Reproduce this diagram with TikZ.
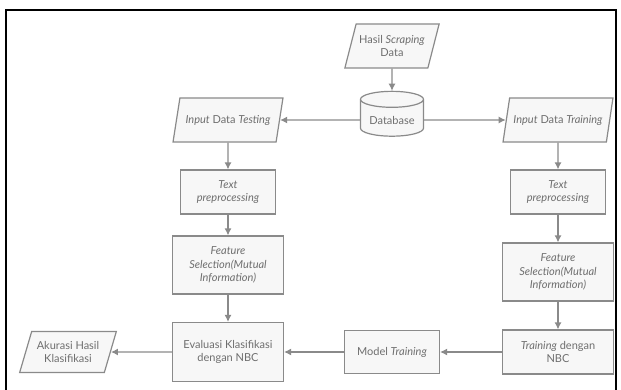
\documentclass[tikz,border=0pt]{standalone}
\usepackage{fontspec}
\setmainfont{Lato}
\usetikzlibrary{arrows,arrows.meta,shapes.geometric}
\definecolor{boxline}{HTML}{8A8A8A}
\definecolor{boxfill}{HTML}{F7F7F7}
\definecolor{boxtext}{HTML}{6E6E6E}
\tikzset{
    block/.style = {draw=boxline, fill=boxfill, rectangle, line width=1.2pt,
        text=boxtext, font=\fontsize{11}{13.5}\selectfont,
        minimum height=44pt, minimum width=95pt, align=center},
    wide/.style = {minimum width=111pt},
    io/.style = {draw=boxline, fill=boxfill, trapezium, line width=1.2pt,
        trapezium left angle=70, trapezium right angle=110,
        trapezium stretches=true, text=boxtext, font=\fontsize{11}{13.5}\selectfont,
        inner xsep=0pt, minimum height=44pt, minimum width=110pt, align=center},
    store/.style = {draw=boxline, fill=boxfill, cylinder, shape border rotate=90,
        aspect=0.3, line width=1.2pt, text=boxtext, font=\fontsize{11}{13.5}\selectfont,
        inner xsep=4pt, inner ysep=8pt, minimum width=63pt},
    arrow/.style = {draw=boxline, line width=1.2pt, ->}
}

\begin{document}
\begin{tikzpicture}[auto, node distance=72pt, >={Latex[length=7pt,width=7pt]}, x=1pt, y=1pt]
    \useasboundingbox (0,0) rectangle (621,389);
    \draw [line width=1.8pt] (6,-20) rectangle (616,379);
    % upper row
    \node [store] (db) at (392,269) {Database};
    \node [io, above of=db, node distance=74pt, minimum width=95pt] (scrap) {Hasil \textit{Scraping}\\ Data};
    \node [io, left of=db, node distance=164pt] (intest) {\textit{Input} Data \textit{Testing}};
    \node [io, right of=db, node distance=166pt] (intrain) {\textit{Input} Data \textit{Training}};
    % testing branch
    \node [block, below of=intest] (tpl) {\textit{Text}\\ \textit{preprocessing}};
    \node [block, wide, below of=tpl, node distance=73pt, minimum height=58pt] (fsl) {\textit{Feature}\\ \textit{Selection(Mutual}\\ \textit{Information)}};
    \node [block, wide, below of=fsl, node distance=87pt, minimum height=59pt] (eval) {Evaluasi Klasifikasi\\ dengan NBC};
    \node [io, left of=eval, node distance=160pt, minimum width=97pt, minimum height=41pt] (akurasi) {Akurasi Hasil\\ Klasifikasi};
    % training branch
    \node [block, below of=intrain] (tpr) {\textit{Text}\\ \textit{preprocessing}};
    \node [block, wide, below of=tpr, node distance=80pt, minimum height=58pt] (fsr) {\textit{Feature}\\ \textit{Selection(Mutual}\\ \textit{Information)}};
    \node [block, wide, below of=fsr, node distance=80pt] (nbc) {\textit{Training} dengan\\ NBC};
    \node [block, left of=nbc, node distance=166pt, minimum height=43pt] (model) {Model \textit{Training}};
    % connectors
    \draw [arrow] (scrap) -- (db);
    \draw [arrow] (db) -- (intest);
    \draw [arrow] (db) -- (intrain);
    \draw [arrow] (intest) -- (tpl);
    \draw [arrow] (tpl) -- (fsl);
    \draw [arrow] (fsl) -- (eval);
    \draw [arrow] (intrain) -- (tpr);
    \draw [arrow] (tpr) -- (fsr);
    \draw [arrow] (fsr) -- (nbc);
    \draw [arrow] (nbc) -- (model);
    \draw [arrow] (model) -- (eval);
    \draw [arrow] (eval) -- (akurasi);
\end{tikzpicture}
\end{document}
